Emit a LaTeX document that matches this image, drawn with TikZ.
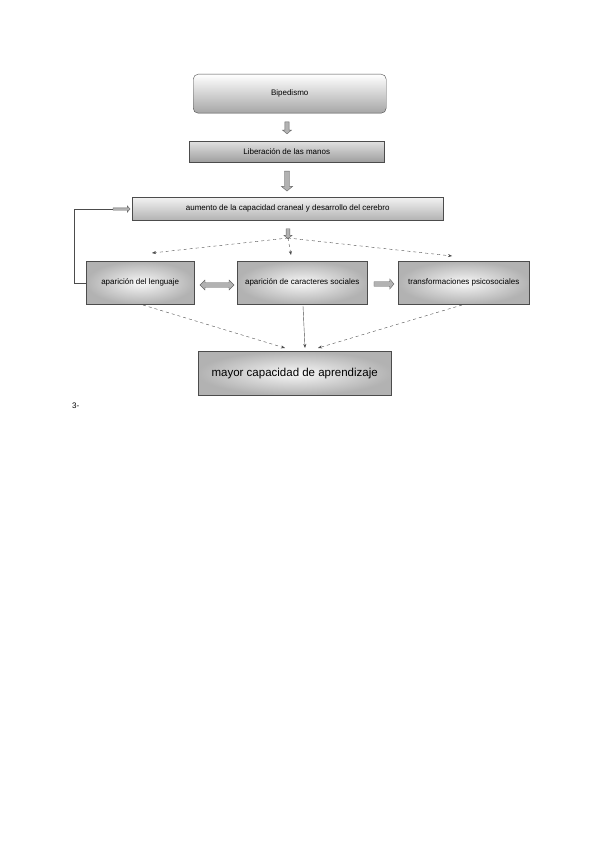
\documentclass[tikz,border=0pt]{standalone}
\usepackage{fontspec}
\setmainfont{Liberation Sans}
\usetikzlibrary{arrows.meta,shapes.arrows}
\begin{document}
\begin{tikzpicture}[x=1pt,y=-1pt,
  boxa/.style={draw=black!70, inner sep=0pt, anchor=north west, font=\fontsize{8}{9}\selectfont},
  vshade/.style={top color=white, bottom color=black!35},
  bandshade/.style={top color=black!12, bottom color=black!38},
  bandshadeb/.style={top color=black!5, bottom color=black!30},
  radshade/.style={inner color=black!3, outer color=black!30},
  blk/.style={single arrow, draw=black!60, fill=black!30, minimum height=#1, single arrow head extend=2pt, inner sep=1.5pt, single arrow tip angle=100},
  blk/.default=12pt,
  dasharr/.style={-{Stealth[length=4pt,width=3pt]}, dashed, draw=black!70, thin},
  solidarr/.style={-{Stealth[length=4pt,width=3pt]}, draw=black!70, thin}
]
\useasboundingbox (0,0) rectangle (600,848);
\node[boxa, rounded corners=5pt, vshade, minimum width=193pt, minimum height=39pt] (b1) at (193,74) {Bipedismo};
\node[boxa, bandshade, minimum width=195pt, minimum height=21pt] (b2) at (189,141) {Liberación de las manos};
\node[boxa, bandshadeb, minimum width=311pt, minimum height=23pt] (b3) at (132,197) {aumento de la capacidad craneal y desarrollo del cerebro};
\node[boxa, radshade, minimum width=108pt, minimum height=43pt] (c1) at (86,261) {aparición del lenguaje};
\node[boxa, radshade, minimum width=130pt, minimum height=43pt] (c2) at (237,261) {aparición de caracteres sociales};
\node[boxa, radshade, minimum width=131pt, minimum height=43pt] (c3) at (398,261) {transformaciones psicosociales};
\node[boxa, radshade, minimum width=193pt, minimum height=44pt, font=\fontsize{11.5}{13}\selectfont] (d) at (198,351) {mayor capacidad de aprendizaje};
\node[font=\fontsize{8}{9}\selectfont, anchor=west, inner sep=0pt] (n3) at (72,406) {3-};
% block arrows
\node[blk=12pt, shape border rotate=270, minimum width=9pt] (a1) at (287,127) {};
\node[blk=20pt, shape border rotate=270, minimum width=11pt] (a2) at (287,180) {};
\node[blk=10pt, shape border rotate=270, minimum width=8pt] (a3) at (288,233) {};
\node[double arrow, draw=black!60, fill=black!30, minimum height=34pt, minimum width=10pt, inner sep=1.5pt, double arrow head extend=2pt] (da) at (217,285) {};
\node[blk=20pt, minimum width=10pt] (ra) at (383,284) {};
\node[blk=17pt, minimum width=6pt, inner sep=1pt] (fa) at (121,209) {};
% feedback line
\coordinate (f1) at (74,283);
\coordinate (f2) at (74,209);
\draw[black!70] (c1.west |- f1) -- (f1) -- (f2) -- (fa.west);
% dashed fan
\coordinate (fan) at (288,238);
\coordinate (l1) at (152,253);
\coordinate (l2) at (291,255);
\coordinate (l3) at (452,256);
\draw[dasharr] (fan) -- (l1);
\draw[dasharr] (fan) -- (l2);
\draw[dasharr] (fan) -- (l3);
% to bottom
\coordinate (s1) at (143,305);
\coordinate (s2) at (303,306);
\coordinate (s3) at (462,305);
\coordinate (e1) at (285,348);
\coordinate (e2) at (305,348);
\coordinate (e3) at (318,348);
\draw[dasharr] (s1) -- (e1);
\draw[solidarr] (s2) -- (e2);
\draw[dasharr] (s3) -- (e3);
\end{tikzpicture}
\end{document}
